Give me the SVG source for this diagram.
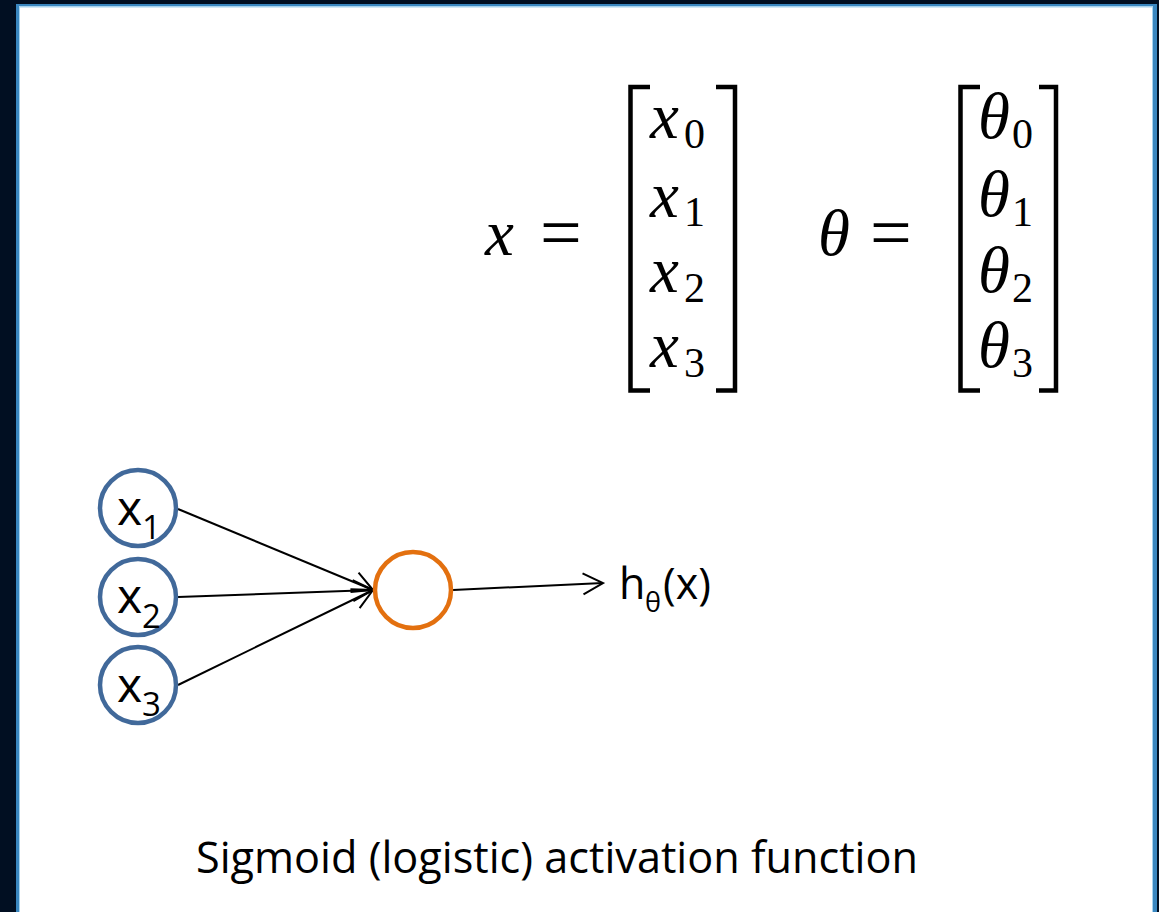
<svg xmlns="http://www.w3.org/2000/svg" width="1159" height="912" viewBox="0 0 1159 912">
<style>
.math{font-family:"Liberation Serif","DejaVu Serif",serif;fill:#000}
.it{font-style:italic}
.lbl{font-family:"Open Sans","Liberation Sans",sans-serif;fill:#000}
.br{fill:none;stroke:#000;stroke-width:4.5;stroke-linecap:butt;stroke-linejoin:miter}
.inp{fill:#fff;stroke:#41699a;stroke-width:4.5}
.act{fill:#fff;stroke:#e3700f;stroke-width:4.5}
.edge{fill:none;stroke:#000;stroke-width:2}
</style>
<defs>
<marker id="arrow" markerUnits="userSpaceOnUse" markerWidth="24" markerHeight="24" viewBox="0 0 24 24" refX="22" refY="12" orient="auto">
<path d="M2,1.5 L22,12 L2,22.5" fill="none" stroke="#000" stroke-width="2"/>
</marker>
</defs>
<rect x="0" y="0" width="1159" height="912" fill="#010f22"/>
<rect x="16" y="4" width="1141" height="1000" fill="#3a87c0"/>
<rect x="19" y="6" width="1134" height="1000" fill="#a7d3ef"/>
<rect x="20" y="7.5" width="1132" height="1000" fill="#fff"/>

<g id="eq-x">
<text class="math it" x="485" y="255" font-size="65">x</text>
<text class="math" x="540" y="257" font-size="74">=</text>
<polyline class="br" points="650,87 630.5,87 630.5,390.5 650,390.5"/>
<polyline class="br" points="716,87 735,87 735,390.5 716,390.5"/>
<text class="math it" x="650" y="138" font-size="65">x</text><text class="math" x="684" y="148" font-size="42">0</text>
<text class="math it" x="650" y="217" font-size="65">x</text><text class="math" x="684" y="226" font-size="42">1</text>
<text class="math it" x="650" y="292" font-size="65">x</text><text class="math" x="684" y="302" font-size="42">2</text>
<text class="math it" x="650" y="367" font-size="65">x</text><text class="math" x="684" y="377" font-size="42">3</text>
</g>

<g id="eq-theta">
<text class="math it" x="818" y="255" font-size="65">θ</text>
<text class="math" x="870" y="257" font-size="74">=</text>
<polyline class="br" points="980,87 960.5,87 960.5,390.5 980,390.5"/>
<polyline class="br" points="1039,87 1056,87 1056,390.5 1039,390.5"/>
<text class="math it" x="978" y="138" font-size="65">θ</text><text class="math" x="1012" y="148" font-size="42">0</text>
<text class="math it" x="978" y="216" font-size="65">θ</text><text class="math" x="1012" y="226" font-size="42">1</text>
<text class="math it" x="978" y="292" font-size="65">θ</text><text class="math" x="1012" y="302" font-size="42">2</text>
<text class="math it" x="978" y="367" font-size="65">θ</text><text class="math" x="1012" y="377" font-size="42">3</text>
</g>

<g id="connectors">
<line class="edge" x1="178" y1="509" x2="373" y2="590" marker-end="url(#arrow)"/>
<line class="edge" x1="178" y1="597" x2="373" y2="590" marker-end="url(#arrow)"/>
<line class="edge" x1="178" y1="685" x2="373" y2="590" marker-end="url(#arrow)"/>
<line class="edge" x1="453" y1="590" x2="603" y2="583" marker-end="url(#arrow)"/>
</g>

<g id="node-x1">
<circle class="inp" cx="138" cy="508" r="38"/>
<text class="lbl" font-size="48"><tspan x="117" y="525">x</tspan><tspan x="142" y="539" font-size="33">1</tspan></text>
</g>
<g id="node-x2">
<circle class="inp" cx="138" cy="597" r="38"/>
<text class="lbl" font-size="48"><tspan x="117" y="613">x</tspan><tspan x="142" y="628" font-size="33">2</tspan></text>
</g>
<g id="node-x3">
<circle class="inp" cx="138" cy="685" r="38"/>
<text class="lbl" font-size="48"><tspan x="117" y="702">x</tspan><tspan x="142" y="716" font-size="33">3</tspan></text>
</g>
<g id="node-sigmoid">
<circle class="act" cx="413" cy="590" r="38"/>
</g>
<g id="output-label">
<text class="lbl" font-size="43"><tspan x="619" y="599">h</tspan><tspan x="645" y="612" font-size="27">θ</tspan><tspan x="663" y="599">(x)</tspan></text>
</g>

<g id="caption">
<text class="lbl" x="196" y="873" font-size="44" textLength="722" lengthAdjust="spacingAndGlyphs">Sigmoid (logistic) activation function</text>
</g>
</svg>
